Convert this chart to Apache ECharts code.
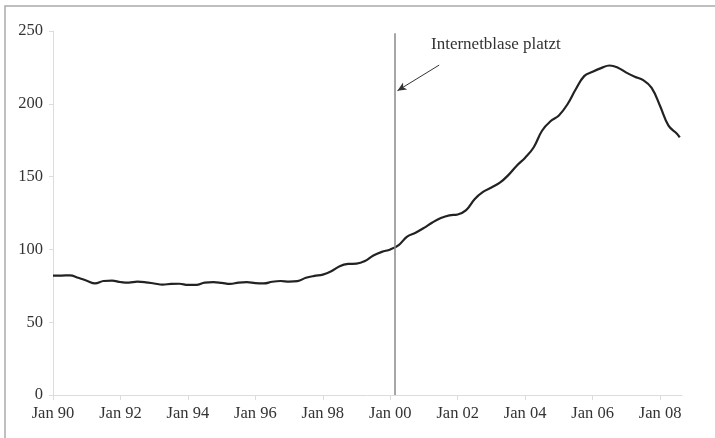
<!DOCTYPE html>
<html lang="de">
<head>
    <meta charset="UTF-8">
    <script src="https://cdn.jsdelivr.net/npm/echarts@6.0.0/dist/echarts.min.js"></script>
    <title>Internetblase</title>
</head>
<body style="margin: 0; background: #fff">
<div id="container" style="width: 715px; height: 438px"></div>

<script>
    // Quartalswerte
    var dates = [
        '1990-01', '1990-04', '1990-07', '1990-10', '1991-01', '1991-04', '1991-07', '1991-10',
        '1992-01', '1992-04', '1992-07', '1992-10', '1993-01', '1993-04', '1993-07', '1993-10',
        '1994-01', '1994-04', '1994-07', '1994-10', '1995-01', '1995-04', '1995-07', '1995-10',
        '1996-01', '1996-04', '1996-07', '1996-10', '1997-01', '1997-04', '1997-07', '1997-10',
        '1998-01', '1998-04', '1998-07', '1998-10', '1999-01', '1999-04', '1999-07', '1999-10',
        '2000-01', '2000-04', '2000-07', '2000-10', '2001-01', '2001-04', '2001-07', '2001-10',
        '2002-01', '2002-04', '2002-07', '2002-10', '2003-01', '2003-04', '2003-07', '2003-10',
        '2004-01', '2004-04', '2004-07', '2004-10', '2005-01', '2005-04', '2005-07', '2005-10',
        '2006-01', '2006-04', '2006-07', '2006-10', '2007-01', '2007-04', '2007-07', '2007-10',
        '2008-01', '2008-04', '2008-07', '2008-08'
    ];
    var values = [
        82, 82, 82.2, 80.5, 78.5, 76.7, 78.3, 78.5,
        77.6, 77.2, 77.8, 77.4, 76.6, 75.8, 76.3, 76.4,
        75.6, 75.6, 77.2, 77.5, 77, 76.3, 77.2, 77.5,
        76.8, 76.6, 77.8, 78.3, 77.9, 78.2, 80.5, 81.8,
        82.7, 85, 88.5, 90, 90.2, 92, 95.8, 98.3,
        100, 103, 108.8, 111.5, 114.8, 118.5, 121.5, 123.4,
        124, 127, 134.5, 139.5, 142.5, 145.8, 151, 157.5,
        163, 170, 181.5, 188, 192, 199.5, 210, 219,
        222, 224.5, 226.3, 224.8, 221.4, 218.6, 216.3, 211,
        198.5, 185, 179.5, 177
    ];
    var eventDate = '2000-02';
    var eventLabel = 'Internetblase platzt';

    function toYear(s) {
        var p = s.split('-');
        return parseInt(p[0]) + (parseInt(p[1]) - 1) / 12;
    }

    var seriesData = [];
    for (var i = 0; i < dates.length; i++) {
        seriesData.push([toYear(dates[i]), values[i]]);
    }
    var eventX = toYear(eventDate) + 0.05;

    var font = '"Liberation Serif", "Times New Roman", serif';
    var myChart = echarts.init(document.getElementById('container'));

    var option = {
        animation: false,
        grid: { left: 53, right: 33, top: 31, bottom: 43 },
        xAxis: {
            type: 'value',
            min: 1990,
            max: 2008.65,
            interval: 2,
            axisLine: { lineStyle: { color: '#dcdcdc', width: 1 } },
            axisTick: { show: true, length: 5, lineStyle: { color: '#dcdcdc' } },
            splitLine: { show: false },
            axisLabel: {
                color: '#333',
                fontFamily: font,
                fontSize: 16.5,
                margin: 10,
                showMaxLabel: false,
                formatter: function (v) {
                    return 'Jan ' + String(Math.round(v)).slice(2);
                }
            }
        },
        yAxis: {
            type: 'value',
            min: 0,
            max: 250,
            interval: 50,
            axisLine: { show: true, lineStyle: { color: '#dcdcdc', width: 1 } },
            axisTick: { show: true, length: 4, lineStyle: { color: '#dcdcdc' } },
            splitLine: { show: false },
            axisLabel: { color: '#333', fontFamily: font, fontSize: 16.5, margin: 10 }
        },
        series: [{
            type: 'line',
            data: seriesData,
            smooth: 0.4,
            showSymbol: false,
            lineStyle: { color: '#222', width: 2.2 },
            markLine: {
                silent: true,
                label: { show: false },
                data: [
                    [{ coord: [eventX, 0], symbol: 'none' },
                     { coord: [eventX, 248.5], symbol: 'none' }],
                    [{ coord: [2001.45, 226.6], symbol: 'none', lineStyle: { color: '#333', width: 1, type: 'solid' } },
                     { coord: [eventX + 0.08, 209], symbol: 'arrow', symbolSize: [6, 9] }]
                ],
                lineStyle: { color: '#888', width: 1.5, type: 'solid' }
            }
        }],
        graphic: [
            {
                type: 'rect',
                shape: { x: 5, y: 6, width: 720, height: 440 },
                style: { fill: 'none', stroke: '#aaa', lineWidth: 1.5 },
                silent: true
            },
            {
                type: 'text',
                left: 431,
                top: 36,
                style: { text: eventLabel, fill: '#333', font: '17px ' + font }
            }
        ]
    };

    myChart.setOption(option);
</script>
</body>
</html>
